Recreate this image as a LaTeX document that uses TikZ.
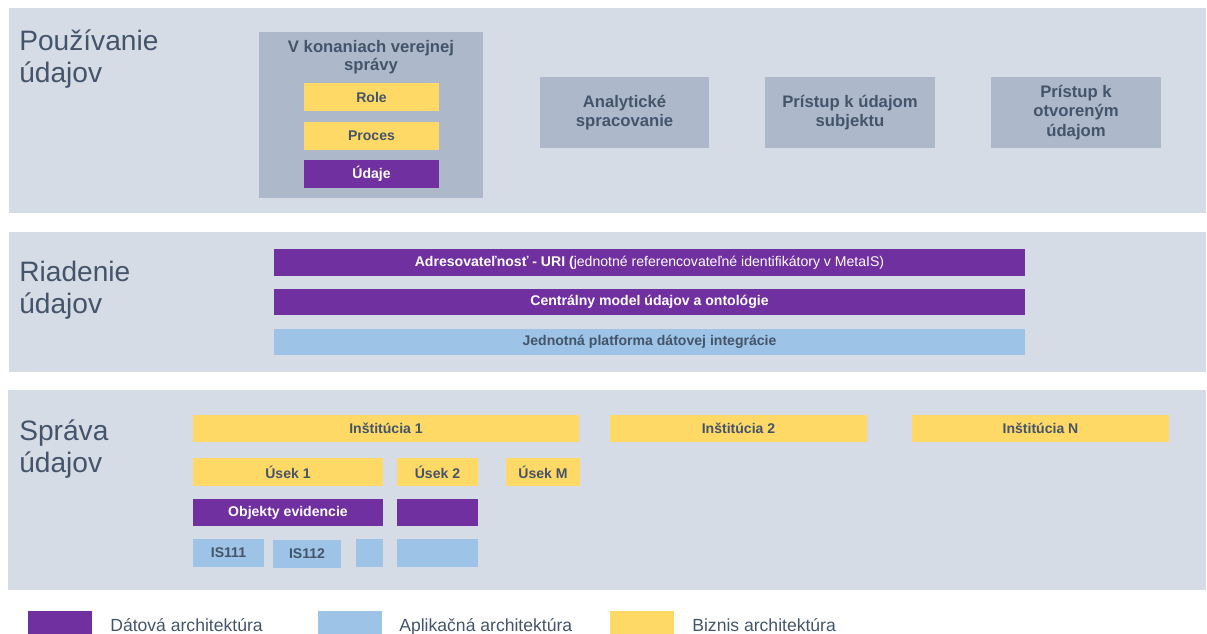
\documentclass[tikz,border=0pt]{standalone}
\usepackage{fontspec}
\setmainfont{Liberation Sans}
\definecolor{pozadie}{HTML}{D6DCE5}
\definecolor{sivy}{HTML}{ADB9CA}
\definecolor{pismo}{HTML}{44546A}
\definecolor{biznis}{HTML}{FFD966}
\definecolor{datova}{HTML}{7030A0}
\definecolor{aplik}{HTML}{9DC3E6}

\begin{document}
\begin{tikzpicture}[x=0.02cm,y=-0.02cm]
\tikzset{every node/.style={inner sep=0pt,text=pismo},
  sz/.style 2 args={minimum width=#1*0.02cm,minimum height=#2*0.02cm},
  vrstva/.style={font=\fontsize{16}{18.5}\selectfont,align=left,anchor=base west},
  oblast/.style={fill=sivy,font=\fontsize{9.5}{11}\selectfont\bfseries,align=center},
  biz/.style={fill=biznis,font=\fontsize{8}{9.6}\selectfont\bfseries},
  dat/.style={fill=datova,text=white,font=\fontsize{8}{9.6}\selectfont\bfseries},
  apl/.style={fill=aplik,font=\fontsize{8}{9.6}\selectfont\bfseries},
  legenda/.style={font=\fontsize{10}{12}\selectfont,anchor=base west}}
\useasboundingbox (0,0) rectangle (1207,634);
% layers
\fill[pozadie] (9,8) rectangle (1206,213);
\fill[pozadie] (9,232) rectangle (1206,372);
\fill[pozadie] (8,390) rectangle (1206,590);
\node (pouzivanie) [vrstva] at (19,83) {Používanie\\údajov};
\node (riadenie) [vrstva] at (19,314) {Riadenie\\údajov};
\node (sprava) [vrstva] at (19,473) {Správa\\údajov};

% usage
\node (konanie) [oblast, sz={224}{166}] at (371,115) {};
\node (konanie-t) [font=\fontsize{9.5}{10.3}\selectfont\bfseries,align=center,anchor=base] at (371,71) {V konaniach verejnej\\správy};
\node (role) [biz, sz={135}{28}] at (371.5,97) {Role};
\node (proces) [biz, sz={135}{28}] at (371.5,136) {Proces};
\node (udaje) [dat, sz={135}{28}] at (371.5,174) {Údaje};
\node (analyt) [oblast, sz={169}{71}] at (624.5,112.5) {Analytické\\spracovanie};
\node (subjekt) [oblast, sz={170}{71}] at (850,112.5) {Prístup k údajom\\subjektu};
\node (otvorene) [oblast, sz={170}{71}] at (1076,112.5) {Prístup k\\otvoreným\\údajom};

% governance
\node (uri) [dat, sz={751}{27}] at (649.5,262.5) {Adresovateľnosť - URI (\mdseries jednotné referencovateľné identifikátory v MetaIS)};
\node (model) [dat, sz={751}{26}] at (649.5,302) {Centrálny model údajov a ontológie};
\node (platforma) [apl, sz={751}{26}] at (649.5,342) {Jednotná platforma dátovej integrácie};

% management
\node (inst1) [biz, sz={386}{27}] at (386,428.5) {Inštitúcia 1};
\node (inst2) [biz, sz={257}{27}] at (738.5,428.5) {Inštitúcia 2};
\node (instN) [biz, sz={257}{27}] at (1040.5,428.5) {Inštitúcia N};
\node (usek1) [biz, sz={190}{28}] at (288,472) {Úsek 1};
\node (usek2) [biz, sz={81}{28}] at (437.5,472) {Úsek 2};
\node (usekM) [biz, sz={74}{28}] at (543,472) {Úsek M};
\node (objekty) [dat, sz={190}{27}] at (288,512.5) {Objekty evidencie};
\node (objekty2) [dat, sz={81}{27}] at (437.5,512.5) {};
\node (is111) [apl, sz={71}{28}] at (228.5,553) {IS111};
\node (is112) [apl, sz={68}{28}] at (307,554) {IS112};
\node (is113) [apl, sz={27}{28}] at (369.5,553) {};
\node (is2) [apl, sz={81}{28}] at (437.5,553) {};

% legend
\node (leg-dat) [dat, sz={64}{24}] at (60,623) {};
\node (leg-dat-t) [legenda] at (110,631) {Dátová architektúra};
\node (leg-apl) [apl, sz={64}{24}] at (350,623) {};
\node (leg-apl-t) [legenda] at (399,631) {Aplikačná architektúra};
\node (leg-biz) [biz, sz={64}{24}] at (642,623) {};
\node (leg-biz-t) [legenda] at (692,631) {Biznis architektúra};
\end{tikzpicture}
\end{document}
